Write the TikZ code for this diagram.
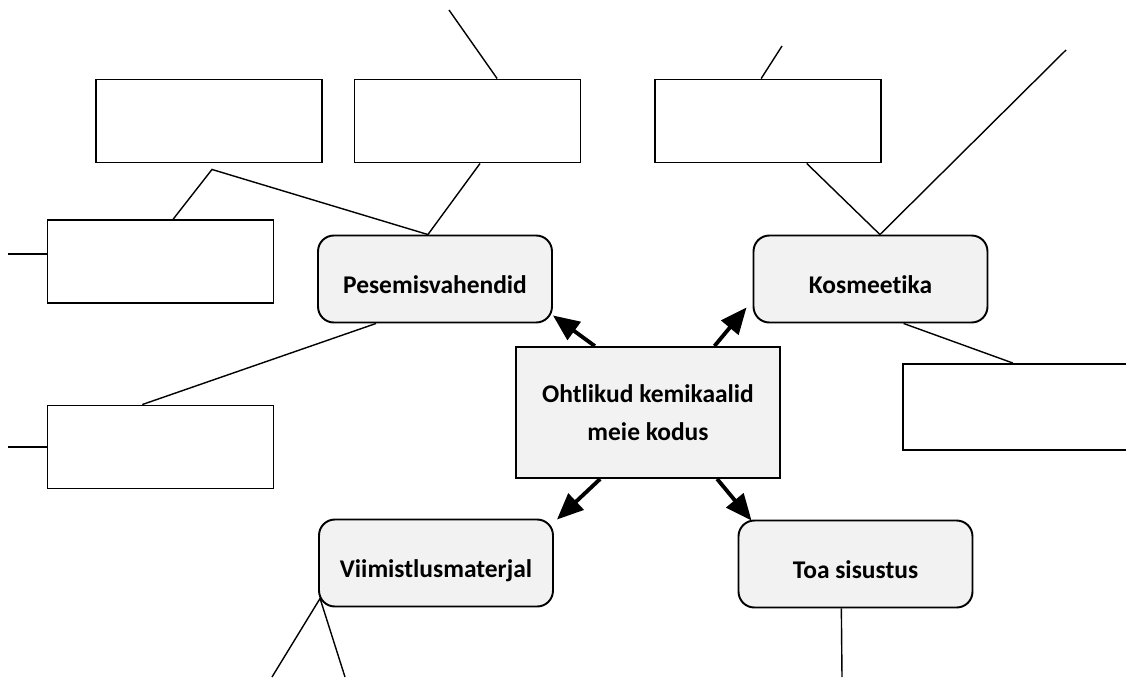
\documentclass[tikz,border=0pt]{standalone}
\usepackage{fontspec}
\setmainfont[Ligatures=NoCommon]{Carlito}
\usetikzlibrary{arrows.meta,calc}
\definecolor{boxgray}{HTML}{F2F2F2}

\begin{document}
\begin{tikzpicture}[x=0.02cm,y=-0.02cm,>={Triangle[length=15pt,width=12.5pt]},
  empty/.style={draw,line width=1.1pt,minimum width=4.52cm,minimum height=1.66cm,inner sep=0pt},
  topic/.style={draw,line width=1.1pt,fill=boxgray,rounded corners=9pt,minimum width=4.68cm,minimum height=1.74cm,text height=18pt,text depth=1.3pt,font=\bfseries\fontsize{14.5}{17}\selectfont},
  link/.style={line width=0.8pt},
  arr/.style={->,line width=2.2pt}]
 \clip (0,0) rectangle (1126,677);
 % centre
 \node[draw,line width=1.1pt,fill=boxgray,minimum width=5.28cm,minimum height=2.62cm,align=center,font=\bfseries\fontsize{14.5}{22}\selectfont] (cb) at (648,412.5) {Ohtlikud kemikaalid\\meie kodus};
 % topics
 \node[topic] (pes) at (435,279) {Pesemisvahendid};
 \node[topic] (kos) at (870.5,279) {Kosmeetika};
 \node[topic] (vim) at (436,563) {Viimistlusmaterjal};
 \node[topic] (toa) at (855.5,564) {Toa sisustus};
 % empty boxes
 \node[empty] (tl) at (209,121) {};
 \node[empty] (tm) at (467.5,121) {};
 \node[empty] (tr) at (768,121) {};
 \node[empty] (lb1) at (160.5,261.5) {};
 \node[empty] (lb2) at (160.5,447) {};
 \node[empty,minimum width=5cm,minimum height=1.72cm] (rb) at (1028,407) {};
 % loose ends
 \coordinate (e1) at (449,10);
 \coordinate (e2) at (782,46);
 \coordinate (e3) at (1066,50);
 \coordinate (e4) at (8,254);
 \coordinate (e5) at (8,447);
 \coordinate (e6) at (272,677);
 \coordinate (e7) at (345,677);
 \coordinate (e8) at (842,677);
 % arrows from centre
 \draw[arr] ($(cb.north west)!.30!(cb.north east)$) -- ($(pes.south east)+(0,-8)$);
 \draw[arr] ($(cb.north west)!.75!(cb.north east)$) -- ($(kos.south west)+(-6,-16)$);
 \draw[arr] ($(cb.south west)!.32!(cb.south east)$) -- ($(vim.north east)+(3,1)$);
 \draw[arr] ($(cb.south west)!.76!(cb.south east)$) -- ($(toa.north west)+(14,1)$);
 % links
 \draw[link] (e1) -- ($(tm.north west)!.63!(tm.north east)$);
 \draw[link] ($(tm.south west)!.555!(tm.south east)$) -- ($(pes.north west)!.47!(pes.north east)$);
 \draw[link] ($(lb1.north west)!.556!(lb1.north east)$) -- ($(tl.south)+(3,6)$) -- ($(pes.north west)!.47!(pes.north east)$);
 \draw[link] (e4) -- (lb1.west |- e4);
 \draw[link] (e5) -- (lb2.west);
 \draw[link] ($(pes.south west)!.25!(pes.south east)$) -- ($(lb2.north west)!.42!(lb2.north east)$);
 \draw[link] (e2) -- ($(tr.north west)!.47!(tr.north east)$);
 \draw[link] ($(tr.south west)!.67!(tr.south east)$) -- ($(kos.north west)!.54!(kos.north east)$) -- (e3);
 \draw[link] ($(kos.south west)!.64!(kos.south east)$) -- ($(rb.north west)!.44!(rb.north east)$);
 \draw[link] (e6) -- ($(vim.south west)+(2,-9)$) -- (e7);
 \draw[link] ($(toa.south west)!.44!(toa.south east)$) -- (e8);
\end{tikzpicture}
\end{document}
